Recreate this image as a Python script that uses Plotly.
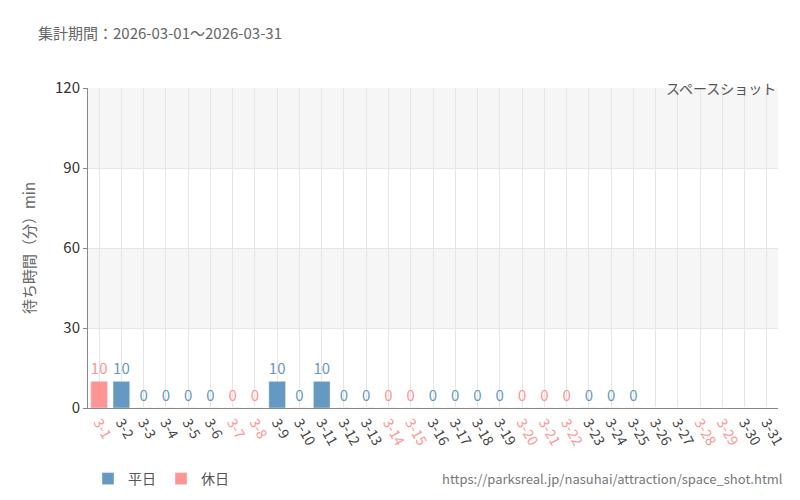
import plotly.graph_objects as go

days = [f"3-{d}" for d in range(1, 32)]
values = [10, 10, 0, 0, 0, 0, 0, 0, 10, 0, 10, 0, 0, 0, 0, 0, 0, 0, 0, 0, 0, 0, 0, 0, 0,
          None, None, None, None, None, None]
holidays = ["3-1", "3-7", "3-8", "3-14", "3-15", "3-20", "3-21", "3-22", "3-28", "3-29"]
yticks = [0, 30, 60, 90, 120]

BLUE = "#6699c2"
RED = "#ff9494"

wk = [v if d not in holidays else None for d, v in zip(days, values)]
hd = [v if d in holidays else None for d, v in zip(days, values)]

def txt(arr):
    return [("" if v is None else str(v)) for v in arr]

fig = go.Figure()
fig.add_bar(x=days, y=wk, name="平日", marker_color=BLUE, text=txt(wk), textposition="outside",
            textfont=dict(color=BLUE, size=15), cliponaxis=False, width=0.75)
fig.add_bar(x=days, y=hd, name="休日", marker_color=RED, text=txt(hd), textposition="outside",
            textfont=dict(color=RED, size=15), cliponaxis=False, width=0.75)

ticktext = [f'<span style="color:{RED if d in holidays else "#444"}">{d}</span>' for d in days]

for y0, y1 in [(30, 60), (90, 120)]:
    fig.add_shape(type="rect", xref="paper", yref="y", x0=0, x1=1, y0=y0, y1=y1,
                  fillcolor="#f6f6f6", line_width=0, layer="below")

fig.update_layout(
    width=800, height=500, barmode="overlay", plot_bgcolor="white", paper_bgcolor="white",
    font=dict(family="Noto Sans CJK JP", color="#555"),
    margin=dict(l=80, r=30, t=80, b=100),
    showlegend=True,
    legend=dict(orientation="h", x=0.1, y=0.09, xanchor="left", yanchor="top",
                xref="container", yref="container", font=dict(size=14)),
    xaxis=dict(tickmode="array", tickvals=days, ticktext=ticktext, tickangle=60,
               showgrid=True, gridcolor="#e6e6e6", tickfont=dict(size=14),
               showline=True, linecolor="#888"),
    yaxis=dict(range=[0, 120], tickvals=yticks, showgrid=True, gridcolor="#e6e6e6",
               tickfont=dict(size=15, color="#333"), showline=True, linecolor="#888",
               ticks="outside", ticklen=4, tickcolor="#888",
               title=dict(text="待ち時間（分）min", font=dict(size=15, color="#666"))),
    annotations=[
        dict(text="集計期間：2026-03-01～2026-03-31", xref="paper", yref="paper", x=-0.075, y=1.0,
             yshift=68, xanchor="left", showarrow=False, font=dict(size=15, color="#666")),
        dict(text="スペースショット", xref="paper", yref="paper", x=1, y=1, yshift=12,
             xanchor="right", showarrow=False, font=dict(size=14, color="#555")),
        dict(text="https://parksreal.jp/nasuhai/attraction/space_shot.html", xref="paper",
             yref="paper", x=1.01, y=0, yshift=-82, xanchor="right", showarrow=False,
             font=dict(size=13, color="#777")),
    ],
)
fig.write_html("out.html")
